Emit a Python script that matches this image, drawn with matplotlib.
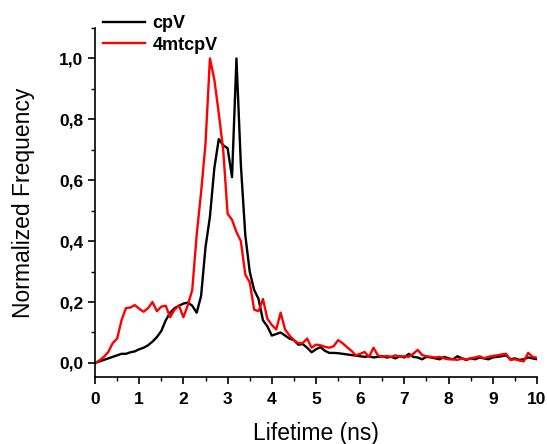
import matplotlib
matplotlib.use("Agg")
import matplotlib.pyplot as plt
from matplotlib.ticker import MultipleLocator, FuncFormatter
import numpy as np

lifetime = [round(0.1 * i, 1) for i in range(101)]

cpV = [0.000, 0.005, 0.010, 0.015, 0.020, 0.025, 0.030, 0.030, 0.035, 0.038,
       0.045, 0.050, 0.058, 0.070, 0.085, 0.105, 0.140, 0.165, 0.180, 0.188,
       0.195, 0.198, 0.188, 0.165, 0.220, 0.380, 0.480, 0.640, 0.735, 0.715,
       0.705, 0.610, 1.000, 0.650, 0.420, 0.300, 0.240, 0.210, 0.140, 0.120,
       0.090, 0.095, 0.100, 0.090, 0.080, 0.075, 0.060, 0.062, 0.050, 0.035,
       0.045, 0.052, 0.040, 0.033, 0.033, 0.032, 0.030, 0.028, 0.026, 0.024,
       0.022, 0.020, 0.022, 0.018, 0.020, 0.022, 0.018, 0.020, 0.015, 0.022,
       0.018, 0.030, 0.020, 0.018, 0.012, 0.020, 0.018, 0.015, 0.012, 0.020,
       0.015, 0.012, 0.022, 0.015, 0.010, 0.015, 0.012, 0.018, 0.015, 0.012,
       0.018, 0.020, 0.022, 0.025, 0.012, 0.015, 0.010, 0.012, 0.018, 0.015,
       0.012]

mtcpV = [0.000, 0.008, 0.020, 0.036, 0.065, 0.080, 0.140, 0.180, 0.182, 0.190,
         0.178, 0.168, 0.180, 0.200, 0.170, 0.185, 0.188, 0.150, 0.175, 0.188,
         0.150, 0.190, 0.240, 0.420, 0.560, 0.720, 1.000, 0.930, 0.820, 0.700,
         0.490, 0.470, 0.430, 0.400, 0.290, 0.265, 0.175, 0.170, 0.210, 0.145,
         0.125, 0.110, 0.165, 0.110, 0.090, 0.075, 0.065, 0.065, 0.080, 0.050,
         0.060, 0.058, 0.053, 0.050, 0.055, 0.075, 0.065, 0.052, 0.040, 0.025,
         0.030, 0.036, 0.020, 0.050, 0.025, 0.020, 0.023, 0.020, 0.025, 0.020,
         0.022, 0.020, 0.030, 0.043, 0.026, 0.022, 0.020, 0.018, 0.020, 0.015,
         0.012, 0.012, 0.010, 0.015, 0.012, 0.015, 0.018, 0.022, 0.015, 0.020,
         0.023, 0.025, 0.028, 0.030, 0.010, 0.012, 0.008, 0.005, 0.033, 0.020,
         0.017]

series_names = ["cpV", "4mtcpV"]

plt.rcParams['font.family'] = ['Liberation Sans', 'DejaVu Sans']

fig = plt.figure(figsize=(5.47, 4.44), dpi=100)
ax = fig.add_axes([0.1737, 0.151, 0.808, 0.786])

ax.plot(lifetime, cpV, color='black', lw=1.7, label=series_names[0])
ax.plot(lifetime, mtcpV, color='#ff0000', lw=1.7, label=series_names[1])

ax.set_xlim(0, 10)
ax.set_ylim(-0.046, 1.1)
ax.spines['top'].set_visible(False)
ax.spines['right'].set_visible(False)
for s in ['left', 'bottom']:
    ax.spines[s].set_linewidth(1.2)

ax.xaxis.set_major_locator(MultipleLocator(1))
ax.xaxis.set_minor_locator(MultipleLocator(0.5))
ax.yaxis.set_major_locator(MultipleLocator(0.2))
ax.yaxis.set_minor_locator(MultipleLocator(0.1))
ax.xaxis.set_major_formatter(FuncFormatter(lambda v, p: f"{v:.0f}"))
ax.yaxis.set_major_formatter(FuncFormatter(lambda v, p: f"{v:.1f}".replace('.', ',')))
ax.tick_params(which='major', direction='out', length=5, width=1.2, labelsize=12.5)
ax.tick_params(axis='x', which='major', pad=6)
ax.tick_params(which='minor', direction='out', length=3, width=1.0)
for lab in ax.get_xticklabels() + ax.get_yticklabels():
    lab.set_fontweight('bold')

ax.set_xlabel("Lifetime (ns)", fontsize=16.5, labelpad=10.5)
ax.set_ylabel("Normalized Frequency", fontsize=16.5, labelpad=17)

leg = fig.legend(loc='upper left', bbox_to_anchor=(103 / 547, 1 - 15 / 444), frameon=False,
                 prop={'weight': 'bold', 'size': 13}, handlelength=2.35,
                 handletextpad=0.4, labelspacing=0.25, borderaxespad=0.0,
                 borderpad=0.0)

fig.savefig("out.png", dpi=100)
